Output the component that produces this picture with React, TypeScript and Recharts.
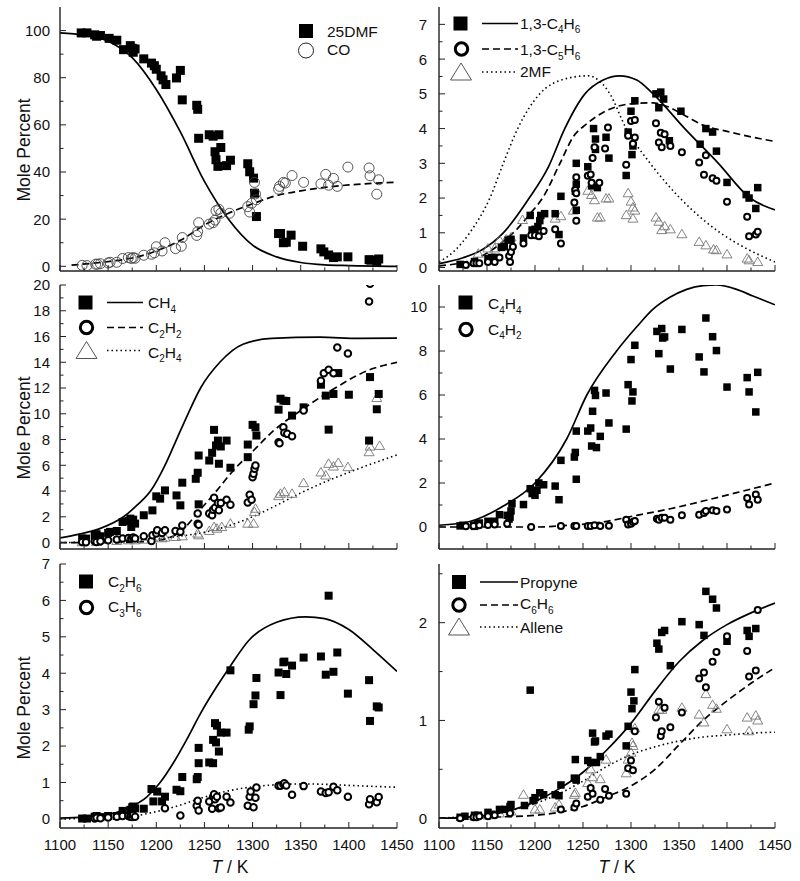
import React from "react";
import { ComposedChart, Line, Scatter, XAxis, YAxis } from "recharts";

type Pt = [number, number];
type Marker = "square" | "ring" | "thinRing" | "triangle";
type Dash = "solid" | "dash" | "dot";

const FONT = "'Liberation Sans', Arial, Helvetica, sans-serif";
const INK = "#111";
const FRAME = "#222";

// temperature axis, shared by every panel
const X_MAJOR = [1100, 1150, 1200, 1250, 1300, 1350, 1400, 1450];
const X_MINOR = [1125, 1175, 1225, 1275, 1325, 1375, 1425];

// ---- panel 1: 25DMF / CO ----
const dmfPts: Pt[] = [
  [1122, 99.0], [1128, 99.0], [1136, 98.2], [1138, 97.6], [1142, 97.9], [1151, 96.7], [1159, 95.9],
  [1166, 91.9], [1173, 93.6], [1175, 92.5], [1176, 90.8], [1178, 92.2], [1187, 88.0], [1195, 86.2],
  [1198, 85.1], [1200, 83.6], [1205, 80.8], [1207, 79.1], [1210, 77.1], [1221, 79.9], [1225, 83.1],
  [1227, 70.6], [1242, 68.3], [1243, 66.6], [1244, 54.3], [1255, 55.8], [1259, 55.2], [1265, 55.8],
  [1261, 48.6], [1262, 45.2], [1264, 42.4], [1267, 50.4], [1273, 42.7], [1277, 45.0], [1295, 43.5],
  [1297, 40.1], [1301, 37.4], [1302, 31.0], [1304, 21.1], [1327, 13.9], [1329, 13.9], [1332, 10.0],
  [1335, 10.2], [1340, 13.2], [1352, 8.5], [1371, 7.4], [1374, 6.1], [1379, 4.8], [1384, 3.7],
  [1388, 4.0], [1399, 4.0], [1421, 2.8], [1423, 2.6], [1429, 2.1], [1431, 3.1],
];
const coPts: Pt[] = [
  [1123, 0.4], [1128, 0.3], [1137, 0.9], [1139, 0.9], [1142, 1.1], [1150, 1.4], [1152, 1.7],
  [1159, 1.7], [1165, 3.3], [1171, 3.7], [1174, 3.3], [1176, 3.7], [1178, 3.4], [1187, 4.7],
  [1195, 5.1], [1198, 5.7], [1200, 8.3], [1206, 6.5], [1209, 10.0], [1220, 7.5], [1226, 8.5],
  [1227, 12.2], [1242, 13.1], [1243, 14.7], [1244, 18.5], [1255, 17.9], [1259, 18.5], [1261, 19.6],
  [1262, 23.6], [1265, 24.2], [1267, 22.5], [1276, 22.5], [1295, 25.3], [1297, 23.0], [1299, 26.7],
  [1302, 35.6], [1303, 30.7], [1304, 28.2], [1327, 32.7], [1328, 33.9], [1332, 35.6], [1334, 35.3],
  [1341, 38.5], [1353, 35.6], [1371, 35.0], [1376, 39.0], [1379, 34.4], [1384, 37.3], [1388, 33.9],
  [1399, 42.1], [1421, 41.7], [1422, 38.4], [1431, 36.7], [1429, 30.6],
];
const dmfModel: Pt[] = [
  [1100, 99], [1125, 98], [1150, 95.5], [1175, 88.5], [1200, 75], [1225, 57], [1250, 36],
  [1275, 20], [1300, 9], [1325, 4], [1350, 1.6], [1375, 0.6], [1400, 0.3], [1450, 0],
];
const coModel: Pt[] = [
  [1112, 0.5], [1150, 2], [1175, 3.5], [1200, 6.5], [1225, 11], [1250, 17.5], [1275, 22.5],
  [1300, 26.5], [1325, 30], [1350, 32], [1375, 33.5], [1400, 34.5], [1425, 35.2], [1450, 35.7],
];

// ---- panel 2: 1,3-C4H6 / 1,3-C5H6 / 2MF ----
const c4h6Pts: Pt[] = [
  [1122, 0.09], [1137, 0.17], [1151, 0.26], [1155, 0.29], [1158, 0.29], [1165, 0.58], [1168, 0.6],
  [1172, 0.79], [1175, 0.81], [1188, 0.85], [1195, 1.5], [1197, 1.08], [1200, 1.1], [1203, 1.18],
  [1205, 1.35], [1206, 1.5], [1210, 1.55], [1221, 1.55], [1225, 0.95], [1227, 2.05], [1243, 3.0],
  [1243, 2.4], [1243, 1.65], [1242, 2.2], [1255, 2.9], [1259, 2.35], [1261, 4.0], [1263, 3.7],
  [1263, 3.4], [1265, 2.3], [1274, 3.75], [1277, 3.15], [1295, 2.65], [1297, 3.9], [1300, 4.5],
  [1301, 3.25], [1302, 3.5], [1304, 4.8], [1326, 5.0], [1329, 4.6], [1331, 5.05], [1334, 4.85],
  [1340, 3.65], [1352, 4.5], [1372, 3.55], [1378, 4.0], [1385, 3.9], [1389, 3.35], [1400, 2.45],
  [1420, 2.1], [1423, 2.0], [1430, 1.7], [1432, 2.3],
];
const c5h6Pts: Pt[] = [
  [1128, 0.07], [1136, 0.12], [1139, 0.12], [1142, 0.12], [1151, 0.16], [1158, 0.16], [1163, 0.29],
  [1173, 0.33], [1174, 0.16], [1175, 0.45], [1177, 0.6], [1188, 0.69], [1196, 0.93], [1200, 0.93],
  [1204, 0.9], [1209, 1.05], [1221, 1.1], [1227, 0.69], [1241, 1.87], [1242, 2.23], [1243, 2.14],
  [1243, 2.6], [1243, 1.35], [1255, 2.64], [1258, 2.68], [1259, 2.44], [1260, 3.15], [1262, 3.46],
  [1267, 2.44], [1276, 4.03], [1273, 3.43], [1295, 2.96], [1297, 3.79], [1300, 4.22], [1302, 3.56],
  [1304, 4.25], [1304, 3.74], [1326, 4.15], [1329, 3.6], [1331, 3.88], [1332, 3.46], [1335, 3.84],
  [1341, 3.5], [1353, 3.32], [1371, 3.02], [1376, 2.67], [1378, 3.23], [1385, 2.57], [1389, 2.5],
  [1400, 1.89], [1421, 1.46], [1423, 0.9], [1430, 0.95], [1432, 1.03],
];
const m2fPts: Pt[] = [
  [1136, 0.16], [1141, 0.4], [1151, 0.55], [1158, 0.55], [1163, 0.79], [1170, 0.81], [1175, 0.87],
  [1187, 1.37], [1221, 1.41], [1227, 1.48], [1240, 1.64], [1255, 2.21], [1259, 2.09], [1262, 1.94],
  [1265, 1.44], [1268, 1.44], [1274, 1.99], [1277, 1.99], [1295, 1.51], [1297, 2.14], [1300, 1.9],
  [1302, 1.73], [1302, 1.41], [1304, 1.64], [1326, 1.44], [1329, 1.32], [1332, 1.08], [1335, 1.19],
  [1341, 1.1], [1353, 0.96], [1371, 0.74], [1378, 0.64], [1386, 0.52], [1389, 0.5], [1400, 0.38],
  [1421, 0.26], [1423, 0.21], [1432, 0.16],
];
const c4h6Model: Pt[] = [
  [1100, 0.11], [1125, 0.28], [1144, 0.5], [1167, 1.0], [1194, 2.0], [1214, 2.9], [1231, 4.0],
  [1252, 5.0], [1271, 5.4], [1288, 5.52], [1306, 5.4], [1323, 5.0], [1356, 4.0], [1391, 3.0],
  [1424, 2.0], [1450, 1.66],
];
const c5h6Model: Pt[] = [
  [1100, 0.05], [1132, 0.2], [1149, 0.4], [1167, 0.75], [1181, 1.1], [1195, 1.55], [1209, 2.05],
  [1226, 3.0], [1240, 3.77], [1254, 4.14], [1270, 4.45], [1286, 4.64], [1303, 4.72], [1323, 4.74],
  [1339, 4.62], [1358, 4.35], [1375, 4.1], [1400, 3.92], [1427, 3.75], [1450, 3.63],
];
const m2fModel: Pt[] = [
  [1100, 0.16], [1115, 0.45], [1132, 1.0], [1153, 2.0], [1167, 3.0], [1182, 4.0], [1205, 5.0],
  [1230, 5.42], [1255, 5.52], [1268, 5.35], [1278, 5.0], [1295, 4.0], [1320, 3.0], [1351, 2.0],
  [1393, 1.0], [1420, 0.55], [1450, 0.16],
];

// ---- panel 3: CH4 / C2H2 / C2H4 ----
const ch4Pts: Pt[] = [
  [1123, 0.31], [1127, 0.31], [1136, 0.57], [1138, 0.65], [1142, 0.49], [1150, 0.75], [1152, 0.83],
  [1159, 0.9], [1165, 1.6], [1171, 1.68], [1173, 1.86], [1174, 1.21], [1176, 1.78], [1178, 1.47],
  [1187, 2.12], [1196, 2.5], [1200, 3.59], [1204, 3.41], [1209, 4.05], [1221, 3.66], [1225, 2.89],
  [1227, 4.65], [1241, 4.95], [1243, 5.42], [1244, 2.97], [1244, 6.76], [1255, 6.37], [1258, 6.97],
  [1260, 8.75], [1262, 7.54], [1264, 7.92], [1265, 6.12], [1267, 7.46], [1273, 7.92], [1277, 5.81],
  [1295, 7.61], [1295, 6.63], [1300, 9.14], [1303, 8.95], [1304, 8.31], [1327, 10.32], [1329, 11.17],
  [1332, 11.02], [1335, 10.99], [1341, 9.86], [1353, 10.5], [1371, 12.26], [1376, 11.41], [1379, 8.77],
  [1384, 11.54], [1389, 13.16], [1400, 11.48], [1421, 7.92], [1422, 12.85], [1429, 10.35], [1431, 11.54],
];
const c2h2Pts: Pt[] = [
  [1123, 0.05], [1127, 0.03], [1136, 0.1], [1138, 0.05], [1142, 0.1], [1150, 0.18], [1159, 0.23],
  [1165, 0.31], [1171, 0.36], [1174, 0.31], [1176, 0.39], [1178, 0.31], [1187, 0.49], [1195, 0.13],
  [1196, 0.57], [1200, 0.7], [1201, 0.95], [1206, 0.75], [1209, 0.95], [1220, 0.9], [1225, 0.83],
  [1227, 1.32], [1243, 1.47], [1243, 2.25], [1244, 1.39], [1255, 2.25], [1258, 2.12], [1259, 2.55],
  [1260, 3.48], [1261, 2.71], [1264, 3.07], [1265, 2.5], [1267, 3.07], [1273, 3.33], [1277, 2.94],
  [1295, 3.12], [1297, 3.72], [1299, 3.33], [1300, 5.08], [1301, 5.34], [1302, 5.73], [1303, 5.99],
  [1327, 7.79], [1328, 7.72], [1332, 8.95], [1333, 8.52], [1336, 8.44], [1341, 8.26], [1353, 10.25],
  [1371, 12.57], [1374, 13.14], [1379, 13.42], [1384, 13.14], [1388, 15.15], [1399, 14.68],
  [1421, 18.71], [1422, 20.1],
];
const c2h4Pts: Pt[] = [
  [1123, 0.03], [1138, 0.05], [1159, 0.13], [1171, 0.18], [1178, 0.18], [1187, 0.23], [1196, 0.34],
  [1206, 0.34], [1209, 0.39], [1220, 0.44], [1227, 0.49], [1243, 0.7], [1244, 0.57], [1255, 0.9],
  [1260, 1.21], [1263, 1.08], [1268, 1.21], [1277, 1.47], [1295, 1.47], [1301, 1.47], [1302, 2.37],
  [1303, 2.63], [1327, 3.61], [1329, 3.79], [1333, 3.92], [1341, 3.79], [1353, 4.62], [1371, 5.45],
  [1376, 5.21], [1379, 6.12], [1384, 5.91], [1389, 6.19], [1399, 5.86], [1421, 7.02], [1422, 7.46],
  [1429, 11.23], [1432, 7.51],
];
const ch4Model: Pt[] = [
  [1100, 0.36], [1120, 0.65], [1142, 1.1], [1166, 2.0], [1180, 2.9], [1194, 4.0], [1209, 6.0],
  [1221, 8.0], [1233, 10.0], [1246, 12.0], [1266, 14.0], [1290, 15.4], [1320, 15.85], [1370, 15.95],
  [1410, 15.85], [1450, 15.87],
];
const c2h2Model: Pt[] = [
  [1100, 0], [1150, 0], [1183, 0.05], [1200, 0.15], [1211, 0.31], [1225, 0.83], [1245, 2.5],
  [1263, 4.05], [1280, 5.6], [1301, 7.15], [1322, 8.7], [1350, 10.25], [1384, 11.92], [1419, 13.34],
  [1450, 13.99],
];
const c2h4Model: Pt[] = [
  [1100, 0], [1150, 0.08], [1200, 0.3], [1225, 0.5], [1250, 0.8], [1275, 1.3], [1300, 2.0],
  [1325, 2.9], [1350, 3.85], [1375, 4.7], [1400, 5.45], [1425, 6.15], [1450, 6.8],
];

// ---- panel 4: C4H4 / C4H2 ----
const c4h4Pts: Pt[] = [
  [1122, 0.05], [1125, 0.08], [1136, 0.08], [1137, 0.03], [1140, 0.15], [1142, 0.18], [1151, 0.26],
  [1158, 0.26], [1163, 0.56], [1171, 0.53], [1173, 0.36], [1174, 0.45], [1175, 0.73], [1176, 1.06],
  [1188, 1.02], [1195, 1.74], [1197, 1.52], [1200, 1.44], [1202, 1.67], [1204, 2.0], [1209, 1.92],
  [1221, 1.86], [1225, 1.24], [1227, 3.03], [1241, 3.18], [1242, 3.39], [1243, 4.36], [1243, 2.17],
  [1255, 4.36], [1258, 4.5], [1259, 3.68], [1260, 5.26], [1262, 6.21], [1263, 5.98], [1264, 3.61],
  [1268, 4.12], [1274, 6.09], [1277, 4.73], [1295, 4.45], [1297, 6.47], [1300, 7.61], [1301, 5.73],
  [1302, 6.14], [1304, 8.26], [1327, 8.89], [1329, 7.88], [1332, 9.02], [1333, 8.59], [1335, 8.64],
  [1341, 7.18], [1353, 8.98], [1371, 7.73], [1376, 7.05], [1378, 9.5], [1385, 8.65], [1389, 8.02],
  [1400, 6.36], [1421, 6.79], [1423, 6.14], [1430, 5.23], [1432, 7.03],
];
const c4h2Pts: Pt[] = [
  [1128, 0.03], [1136, 0.05], [1142, 0.08], [1151, 0.09], [1158, 0.11], [1171, 0.15], [1196, 0.0],
  [1227, 0.05], [1241, 0.05], [1243, 0.05], [1255, 0.05], [1258, 0.05], [1262, 0.08], [1268, 0.05],
  [1277, 0.06], [1295, 0.33], [1297, 0.11], [1300, 0.15], [1302, 0.23], [1304, 0.27], [1327, 0.38],
  [1329, 0.33], [1332, 0.42], [1335, 0.42], [1341, 0.33], [1353, 0.53], [1371, 0.56], [1376, 0.64],
  [1378, 0.73], [1385, 0.76], [1389, 0.73], [1400, 0.8], [1421, 1.32], [1423, 1.02], [1430, 1.48],
  [1432, 1.24],
];
const c4h4Model: Pt[] = [
  [1100, 0.08], [1132, 0.25], [1167, 0.95], [1200, 2.0], [1233, 4.0], [1254, 6.0], [1285, 8.0],
  [1306, 9.1], [1323, 9.9], [1341, 10.45], [1358, 10.8], [1375, 10.97], [1389, 11.0], [1410, 10.8],
  [1427, 10.5], [1450, 10.1],
];
const c4h2Model: Pt[] = [
  [1100, 0], [1200, 0], [1236, 0.08], [1271, 0.23], [1306, 0.53], [1341, 0.83], [1375, 1.18],
  [1410, 1.56], [1450, 2.0],
];

// ---- panel 5: C2H6 / C3H6 ----
const c2h6Pts: Pt[] = [
  [1123, 0.01], [1128, 0.01], [1136, 0.06], [1138, 0.08], [1142, 0.05], [1150, 0.08], [1159, 0.08],
  [1165, 0.22], [1173, 0.25], [1175, 0.32], [1176, 0.34], [1178, 0.29], [1187, 0.28], [1195, 0.82],
  [1197, 0.48], [1201, 0.75], [1206, 0.48], [1209, 0.61], [1221, 0.8], [1225, 0.76], [1227, 1.15],
  [1242, 1.09], [1243, 1.15], [1244, 1.53], [1244, 1.95], [1255, 1.55], [1259, 1.53], [1259, 2.17],
  [1261, 2.63], [1263, 2.56], [1262, 2.1], [1265, 1.85], [1267, 2.37], [1273, 2.37], [1277, 4.08],
  [1296, 2.45], [1297, 2.54], [1301, 3.15], [1303, 3.39], [1304, 3.87], [1327, 4.02], [1329, 3.4],
  [1332, 4.3], [1333, 4.32], [1335, 3.98], [1341, 4.21], [1353, 4.43], [1371, 4.46], [1376, 3.96],
  [1379, 6.13], [1384, 4.04], [1388, 4.57], [1399, 3.44], [1421, 3.81], [1422, 2.69], [1429, 3.09],
  [1431, 3.06],
];
const c3h6Pts: Pt[] = [
  [1136, 0.01], [1138, 0.03], [1142, 0.02], [1150, 0.04], [1159, 0.06], [1165, 0.08], [1171, 0.08],
  [1173, 0.06], [1175, 0.05], [1176, 0.11], [1178, 0.06], [1209, 0.29], [1225, 0.09], [1242, 0.36],
  [1243, 0.5], [1244, 0.23], [1255, 0.48], [1258, 0.28], [1259, 0.61], [1260, 0.68], [1261, 0.54],
  [1263, 0.61], [1265, 0.29], [1267, 0.31], [1273, 0.61], [1277, 0.45], [1295, 0.36], [1297, 0.61],
  [1298, 0.75], [1301, 0.32], [1303, 0.58], [1304, 0.86], [1327, 0.91], [1329, 0.91], [1332, 0.95],
  [1333, 0.98], [1335, 0.92], [1341, 0.66], [1353, 0.9], [1371, 0.75], [1376, 0.71], [1379, 0.73],
  [1384, 0.88], [1388, 0.79], [1399, 0.61], [1421, 0.4], [1422, 0.54], [1429, 0.46], [1431, 0.6],
];
const c2h6Model: Pt[] = [
  [1100, 0.02], [1125, 0.05], [1150, 0.12], [1175, 0.35], [1190, 0.6], [1204, 1.0], [1218, 1.55],
  [1232, 2.2], [1246, 2.9], [1262, 3.6], [1277, 4.2], [1296, 4.9], [1325, 5.4], [1355, 5.55],
  [1375, 5.5], [1400, 5.2], [1425, 4.65], [1450, 4.05],
];
const c3h6Model: Pt[] = [
  [1100, 0], [1150, 0.02], [1175, 0.07], [1200, 0.2], [1225, 0.38], [1250, 0.6], [1275, 0.77],
  [1300, 0.88], [1325, 0.94], [1350, 0.96], [1375, 0.95], [1400, 0.92], [1450, 0.87],
];

// ---- panel 6: Propyne / C6H6 / Allene ----
const propynePts: Pt[] = [
  [1122, 0.01], [1127, 0.02], [1137, 0.03], [1141, 0.03], [1151, 0.06], [1155, 0.04], [1163, 0.09],
  [1169, 0.09], [1174, 0.12], [1175, 0.14], [1189, 0.13], [1195, 1.31], [1198, 0.18], [1200, 0.21],
  [1205, 0.26], [1209, 0.24], [1221, 0.24], [1225, 0.23], [1227, 0.34], [1241, 0.41], [1242, 0.6],
  [1243, 0.39], [1243, 0.4], [1255, 0.59], [1258, 0.57], [1260, 0.87], [1262, 0.78], [1263, 0.79],
  [1264, 0.57], [1268, 0.63], [1274, 0.84], [1277, 0.86], [1295, 0.74], [1297, 0.94], [1300, 1.29],
  [1301, 1.12], [1303, 1.2], [1304, 1.52], [1327, 1.79], [1329, 1.73], [1332, 1.9], [1335, 1.92],
  [1341, 1.56], [1353, 2.01], [1371, 1.98], [1376, 1.87], [1378, 2.32], [1385, 2.24], [1389, 2.15],
  [1400, 1.81], [1421, 1.92], [1423, 1.86], [1430, 1.94],
];
const c6h6Pts: Pt[] = [
  [1122, 0.0], [1136, 0.01], [1139, 0.01], [1142, 0.02], [1151, 0.02], [1158, 0.03], [1174, 0.05],
  [1227, 0.09], [1241, 0.11], [1243, 0.15], [1255, 0.22], [1258, 0.31], [1260, 0.25], [1268, 0.19],
  [1273, 0.3], [1277, 0.23], [1295, 0.25], [1297, 0.51], [1300, 0.59], [1302, 0.49], [1304, 0.89],
  [1326, 1.03], [1329, 1.19], [1331, 0.84], [1332, 0.89], [1335, 1.13], [1341, 0.93], [1353, 1.08],
  [1371, 1.43], [1376, 1.49], [1378, 1.34], [1385, 1.6], [1389, 1.7], [1400, 1.86], [1421, 1.71],
  [1423, 1.45], [1430, 1.51], [1432, 2.13],
];
const allenePts: Pt[] = [
  [1137, 0.02], [1151, 0.03], [1163, 0.05], [1175, 0.07], [1188, 0.24], [1200, 0.09], [1205, 0.09],
  [1221, 0.11], [1225, 0.14], [1241, 0.24], [1242, 0.26], [1255, 0.36], [1258, 0.5], [1260, 0.42],
  [1268, 0.4], [1274, 0.6], [1295, 0.46], [1297, 0.6], [1300, 0.67], [1301, 0.77], [1302, 0.74],
  [1304, 0.92], [1329, 1.11], [1332, 1.11], [1353, 1.13], [1371, 1.06], [1376, 0.98], [1378, 1.27],
  [1385, 1.16], [1389, 1.12], [1400, 0.91], [1421, 1.03], [1423, 0.89], [1430, 1.05], [1432, 1.0],
];
const propyneModel: Pt[] = [
  [1100, 0], [1150, 0.03], [1175, 0.08], [1200, 0.17], [1225, 0.3], [1250, 0.47], [1275, 0.7],
  [1300, 0.97], [1325, 1.3], [1350, 1.6], [1375, 1.82], [1400, 1.98], [1425, 2.1], [1450, 2.2],
];
const c6h6Model: Pt[] = [
  [1100, 0], [1150, 0.01], [1200, 0.03], [1225, 0.06], [1250, 0.12], [1275, 0.22], [1300, 0.33],
  [1325, 0.5], [1350, 0.75], [1375, 1.0], [1400, 1.2], [1425, 1.38], [1450, 1.54],
];
const alleneModel: Pt[] = [
  [1100, 0], [1150, 0.04], [1175, 0.08], [1200, 0.15], [1225, 0.25], [1250, 0.38], [1275, 0.53],
  [1300, 0.65], [1325, 0.73], [1350, 0.79], [1375, 0.83], [1400, 0.85], [1425, 0.87], [1450, 0.88],
];

// y ticks per panel
const Y1_MAJOR = [0, 20, 40, 60, 80, 100];
const Y1_MINOR = [10, 30, 50, 70, 90];
const Y2_MAJOR = [0, 1, 2, 3, 4, 5, 6, 7];
const Y2_MINOR = [0.5, 1.5, 2.5, 3.5, 4.5, 5.5, 6.5];
const Y3_MAJOR = [0, 2, 4, 6, 8, 10, 12, 14, 16, 18, 20];
const Y3_MINOR = [1, 3, 5, 7, 9, 11, 13, 15, 17, 19];
const Y4_MAJOR = [0, 2, 4, 6, 8, 10];
const Y4_MINOR = [1, 3, 5, 7, 9];
const Y6_MAJOR = [0, 1, 2];
const Y6_MINOR = [0.5, 1.5, 2.5];

interface MarkSpec { pts: Pt[]; marker: Marker; size: number }
interface ModelSpec { pts: Pt[]; dash: Dash }
interface PanelSpec {
  x: number; y: number; w: number; h: number;
  yDomain: [number, number]; yMajor: number[]; yMinor: number[];
  labelGap: number; xLabels: boolean;
  marks: MarkSpec[]; models: ModelSpec[];
}

const PANELS: PanelSpec[] = [
  {
    x: 60, y: 7, w: 337, h: 264, yDomain: [-2, 110], yMajor: Y1_MAJOR, yMinor: Y1_MINOR, labelGap: 10, xLabels: false,
    marks: [{ pts: dmfPts, marker: "square", size: 9 }, { pts: coPts, marker: "thinRing", size: 10 }],
    models: [{ pts: dmfModel, dash: "solid" }, { pts: coModel, dash: "dash" }],
  },
  {
    x: 439, y: 7, w: 336, h: 264, yDomain: [-0.1, 7.5], yMajor: Y2_MAJOR, yMinor: Y2_MINOR, labelGap: 12, xLabels: false,
    marks: [
      { pts: m2fPts, marker: "triangle", size: 10 },
      { pts: c4h6Pts, marker: "square", size: 7.5 },
      { pts: c5h6Pts, marker: "ring", size: 8 },
    ],
    models: [{ pts: c4h6Model, dash: "solid" }, { pts: c5h6Model, dash: "dash" }, { pts: m2fModel, dash: "dot" }],
  },
  {
    x: 60, y: 285, w: 337, h: 264, yDomain: [-0.5, 20], yMajor: Y3_MAJOR, yMinor: Y3_MINOR, labelGap: 10, xLabels: false,
    marks: [
      { pts: c2h4Pts, marker: "triangle", size: 10 },
      { pts: ch4Pts, marker: "square", size: 8 },
      { pts: c2h2Pts, marker: "ring", size: 8.5 },
    ],
    models: [{ pts: ch4Model, dash: "solid" }, { pts: c2h2Model, dash: "dash" }, { pts: c2h4Model, dash: "dot" }],
  },
  {
    x: 439, y: 285, w: 336, h: 264, yDomain: [-1, 11], yMajor: Y4_MAJOR, yMinor: Y4_MINOR, labelGap: 12, xLabels: false,
    marks: [{ pts: c4h4Pts, marker: "square", size: 7.5 }, { pts: c4h2Pts, marker: "ring", size: 8 }],
    models: [{ pts: c4h4Model, dash: "solid" }, { pts: c4h2Model, dash: "dash" }],
  },
  {
    x: 60, y: 564, w: 337, h: 264, yDomain: [-0.25, 7], yMajor: Y2_MAJOR, yMinor: Y2_MINOR, labelGap: 10, xLabels: true,
    marks: [{ pts: c2h6Pts, marker: "square", size: 8 }, { pts: c3h6Pts, marker: "ring", size: 8.5 }],
    models: [{ pts: c2h6Model, dash: "solid" }, { pts: c3h6Model, dash: "dot" }],
  },
  {
    x: 439, y: 564, w: 336, h: 264, yDomain: [-0.1, 2.6], yMajor: Y6_MAJOR, yMinor: Y6_MINOR, labelGap: 12, xLabels: true,
    marks: [
      { pts: allenePts, marker: "triangle", size: 10 },
      { pts: propynePts, marker: "square", size: 7.5 },
      { pts: c6h6Pts, marker: "ring", size: 8 },
    ],
    models: [{ pts: propyneModel, dash: "solid" }, { pts: c6h6Model, dash: "dash" }, { pts: alleneModel, dash: "dot" }],
  },
];

const toRows = (pts: Pt[]) => pts.map(([t, v]) => ({ t, v }));

const DASHES: Record<Dash, string | undefined> = { solid: undefined, dash: "7 4", dot: "1.5 3" };

function makeShape(kind: Marker, size: number) {
  return (p: any) => {
    const { cx, cy } = p;
    if (cx == null || cy == null) return <g />;
    if (kind === "square")
      return <rect x={cx - size / 2} y={cy - size / 2} width={size} height={size} fill="#000" />;
    if (kind === "ring")
      return <circle cx={cx} cy={cy} r={size / 2 - 1} fill="#fff" stroke="#000" strokeWidth={2} />;
    if (kind === "thinRing")
      return <circle cx={cx} cy={cy} r={size / 2} fill="none" stroke="#444" strokeWidth={0.9} />;
    const hw = size / 2;
    const h = size * 0.85;
    return (
      <polygon
        points={`${cx},${cy - h * 0.58} ${cx - hw},${cy + h * 0.42} ${cx + hw},${cy + h * 0.42}`}
        fill="none"
        stroke="#777"
        strokeWidth={0.9}
      />
    );
  };
}

// room around each plot box so tick labels at the edges are not cut
const YW = 44;
const MT = 12;
const MR = 24;
const AXIS = { stroke: FRAME, strokeWidth: 1.4 };

function Panel({ spec }: { spec: PanelSpec }) {
  const xh = spec.xLabels ? 34 : 4;
  const width = YW + spec.w + MR;
  const height = MT + spec.h + xh;
  const top = MT;
  const bottom = MT + spec.h;
  const left = YW;
  const right = YW + spec.w;
  const xTicks = [...X_MAJOR, ...X_MINOR].sort((a, b) => a - b);
  const yTicks = [...spec.yMajor, ...spec.yMinor].sort((a, b) => a - b);
  const xMajor = (v: number) => X_MAJOR.includes(v);
  const yMajor = (v: number) => spec.yMajor.includes(v);

  const bottomTick = (p: any) => {
    const v = p.payload.value;
    const len = xMajor(v) ? 6 : 3.5;
    return (
      <g>
        <line x1={p.x} x2={p.x} y1={bottom} y2={bottom - len} stroke={FRAME} strokeWidth={1} />
        {spec.xLabels && xMajor(v) && (
          <text x={p.x} y={bottom + 22} textAnchor="middle" fontFamily={FONT} fontSize={15} fill={INK}>
            {v}
          </text>
        )}
      </g>
    );
  };
  const topTick = (p: any) => {
    const len = xMajor(p.payload.value) ? 6 : 3.5;
    return <line x1={p.x} x2={p.x} y1={top} y2={top + len} stroke={FRAME} strokeWidth={1} />;
  };
  const leftTick = (p: any) => {
    const v = p.payload.value;
    const len = yMajor(v) ? 6 : 3.5;
    return (
      <g>
        <line x1={left} x2={left + len} y1={p.y} y2={p.y} stroke={FRAME} strokeWidth={1} />
        {yMajor(v) && (
          <text x={left - spec.labelGap} y={p.y + 5.4} textAnchor="end" fontFamily={FONT} fontSize={15} fill={INK}>
            {v}
          </text>
        )}
      </g>
    );
  };
  const rightTick = (p: any) => {
    const len = yMajor(p.payload.value) ? 6 : 3.5;
    return <line x1={right} x2={right - len} y1={p.y} y2={p.y} stroke={FRAME} strokeWidth={1} />;
  };

  return (
    <div style={{ position: "absolute", left: spec.x - YW, top: spec.y - MT }}>
      <ComposedChart width={width} height={height} margin={{ top: MT, right: MR, bottom: 0, left: 0 }}>
        <XAxis
          xAxisId="b" orientation="bottom" type="number" dataKey="t" domain={[1100, 1450]} allowDataOverflow
          ticks={xTicks} interval={0} height={xh} tickLine={false} axisLine={AXIS} tick={bottomTick}
        />
        <XAxis
          xAxisId="t" orientation="top" type="number" domain={[1100, 1450]} allowDataOverflow
          ticks={xTicks} interval={0} height={0} tickLine={false} axisLine={AXIS} tick={topTick}
        />
        <YAxis
          yAxisId="l" orientation="left" type="number" dataKey="v" domain={spec.yDomain} allowDataOverflow
          ticks={yTicks} interval={0} width={YW} tickLine={false} axisLine={AXIS} tick={leftTick}
        />
        <YAxis
          yAxisId="r" orientation="right" type="number" domain={spec.yDomain} allowDataOverflow
          ticks={yTicks} interval={0} width={0} tickLine={false} axisLine={AXIS} tick={rightTick}
        />
        {spec.marks.map((m, i) => (
          <Scatter
            key={`s${i}`} xAxisId="b" yAxisId="l" data={toRows(m.pts)} dataKey="v"
            shape={makeShape(m.marker, m.size)} isAnimationActive={false}
          />
        ))}
        {spec.models.map((m, i) => (
          <Line
            key={`l${i}`} xAxisId="b" yAxisId="l" data={toRows(m.pts)} dataKey="v" type="monotone"
            stroke="#000" strokeWidth={m.dash === "dot" ? 1.6 : 1.7} strokeDasharray={DASHES[m.dash]}
            dot={false} activeDot={false} isAnimationActive={false}
          />
        ))}
      </ComposedChart>
    </div>
  );
}

function Chem({ x, y, label }: { x: number; y: number; label: string }) {
  const parts = label.split(/_(\d)/);
  return (
    <text x={x} y={y} fontFamily={FONT} fontSize={15.5} fill={INK}>
      {parts.map((s, i) =>
        i % 2 === 1 ? (
          <tspan key={i} dy={4.5} fontSize={10}>{s}</tspan>
        ) : (
          <tspan key={i} dy={i === 0 ? 0 : -4.5}>{s}</tspan>
        )
      )}
    </text>
  );
}

function Key({ mx, my, marker, dash, lx, tx, ty, label }: {
  mx: number; my: number; marker: Marker; dash?: Dash; lx?: [number, number]; tx: number; ty: number; label: string;
}) {
  let glyph;
  if (marker === "square") glyph = <rect x={mx - 7} y={my - 7} width={14} height={14} fill="#000" />;
  else if (marker === "ring") glyph = <circle cx={mx} cy={my} r={6.2} fill="none" stroke="#000" strokeWidth={3} />;
  else if (marker === "thinRing") glyph = <circle cx={mx} cy={my} r={7.5} fill="none" stroke="#222" strokeWidth={1} />;
  else
    glyph = (
      <polygon
        points={`${mx},${my - 9} ${mx - 10.5},${my + 8} ${mx + 10.5},${my + 8}`}
        fill="none" stroke="#555" strokeWidth={1}
      />
    );
  return (
    <g>
      {glyph}
      {dash && lx && (
        <line x1={lx[0]} x2={lx[1]} y1={my} y2={my} stroke="#000" strokeWidth={1.7} strokeDasharray={DASHES[dash]} />
      )}
      <Chem x={tx} y={ty} label={label} />
    </g>
  );
}

export default function App() {
  return (
    <div style={{ position: "absolute", left: 0, top: 0, width: 800, height: 881, background: "#fff" }}>
      {PANELS.map((p, i) => (
        <Panel key={i} spec={p} />
      ))}
      <svg width={800} height={881} style={{ position: "absolute", left: 0, top: 0, pointerEvents: "none" }}>
        {/* legends */}
        <Key mx={306} my={31} marker="square" tx={327} ty={36.5} label="25DMF" />
        <Key mx={306} my={50.5} marker="thinRing" tx={327} ty={55} label="CO" />

        <Key mx={460.5} my={23.5} marker="square" dash="solid" lx={[482, 518]} tx={520} ty={28.5} label="1,3-C_4H_6" />
        <Key mx={461.5} my={49} marker="ring" dash="dash" lx={[482, 518]} tx={520} ty={55} label="1,3-C_5H_6" />
        <Key mx={461} my={72} marker="triangle" dash="dot" lx={[482, 518]} tx={520} ty={77} label="2MF" />

        <Key mx={85.5} my={302.5} marker="square" dash="solid" lx={[107, 143]} tx={148} ty={308} label="CH_4" />
        <Key mx={86.5} my={327.5} marker="ring" dash="dash" lx={[107, 143]} tx={148} ty={333} label="C_2H_2" />
        <Key mx={86.5} my={350.5} marker="triangle" dash="dot" lx={[107, 143]} tx={148} ty={357.5} label="C_2H_4" />

        <Key mx={465.5} my={302.5} marker="square" tx={488} ty={309} label="C_4H_4" />
        <Key mx={466} my={329.5} marker="ring" tx={488} ty={334.5} label="C_4H_2" />

        <Key mx={86} my={581.5} marker="square" tx={108} ty={587} label="C_2H_6" />
        <Key mx={86.5} my={607.5} marker="ring" tx={108} ty={612} label="C_3H_6" />

        <Key mx={459} my={582} marker="square" dash="solid" lx={[480, 518]} tx={520} ty={588} label="Propyne" />
        <Key mx={459} my={605} marker="ring" dash="dash" lx={[480, 518]} tx={520} ty={609} label="C_6H_6" />
        <Key mx={459} my={627} marker="triangle" dash="dot" lx={[480, 518]} tx={520} ty={632.5} label="Allene" />

        {/* axis titles */}
        {[150, 428, 708].map((cy) => (
          <text
            key={cy} x={30} y={cy} transform={`rotate(-90 30 ${cy})`} textAnchor="middle"
            fontFamily={FONT} fontSize={17.5} fill={INK}
          >
            Mole Percent
          </text>
        ))}
        {[230, 617].map((cx) => (
          <text key={cx} x={cx} y={872.5} textAnchor="middle" fontFamily={FONT} fontSize={17.5} fill={INK}>
            <tspan fontStyle="italic">T</tspan> / K
          </text>
        ))}
      </svg>
    </div>
  );
}
